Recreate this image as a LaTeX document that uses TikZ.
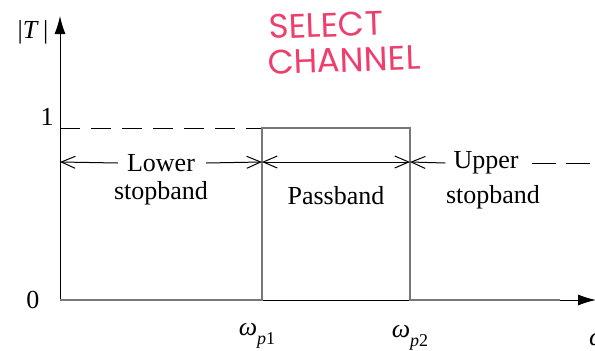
\documentclass[tikz,border=0pt]{standalone}
\usepackage{fontspec}
\setmainfont{Liberation Serif}
\newfontfamily\handfont{Poppins}
\usetikzlibrary{arrows.meta}
\definecolor{pinkink}{RGB}{238,62,108}
\definecolor{scangray}{RGB}{120,120,120}
\newcommand{\lowsub}[1]{\raisebox{-0.35em}{\fontsize{18}{20}\selectfont\itshape #1}}
\begin{document}
\begin{tikzpicture}[x=1pt,y=-1pt,
  lbl/.style={font=\fontsize{26}{28}\selectfont, inner sep=0pt},
  hand/.style={font=\handfont\fontsize{34}{36}\selectfont, text=pinkink, inner sep=0pt},
  axisline/.style={line width=1pt, -{Latex[length=18pt,width=11pt]}},
  response/.style={line width=2.6pt, draw=scangray, line join=miter},
  guide/.style={line width=1pt, dash pattern=on 20pt off 11pt},
  dimline/.style={line width=1pt, -{Straight Barb[length=14pt,width=12pt,line width=1pt]}},
  dimboth/.style={line width=1pt, {Straight Barb[length=14pt,width=12pt,line width=1pt]}-{Straight Barb[length=14pt,width=12pt,line width=1pt]}}]
\useasboundingbox (0,0) rectangle (595,351);

% coordinates
\coordinate (O) at (60,300);
\coordinate (Ytip) at (60,16);
\coordinate (Xtip) at (596,300);
\coordinate (lt) at (60,128);
\coordinate (bl) at (262,300);
\coordinate (tl) at (262,128);
\coordinate (tr) at (410,128);
\coordinate (br) at (410,300);
\coordinate (re) at (560,300);
\coordinate (aL) at (60,162);
\coordinate (p1) at (262,162);
\coordinate (p2) at (410,162);
\coordinate (d1) at (532,163);
\coordinate (d2) at (600,163);

% axes
\draw[axisline] (O) -- (Ytip);
\draw[axisline] (O) -- (Xtip);

% response
\draw[guide] (lt) -- (tl);
\draw[response] (O) -- (bl) -- (tl) -- (tr) -- (br) -- (re);

% labels
\node[lbl] (T) at (33,32) {|\textit{T}\,|};
\node[lbl] (one) at (47,117) {1};
\node[lbl] (zero) at (33,300) {0};
\node[lbl] (wp1) at (257,336) {\textit{ω}\lowsub{p}\lowsub{\upshape 1}};
\node[lbl] (wp2) at (410,338) {\textit{ω}\lowsub{p}\lowsub{\upshape 2}};
\node[lbl, anchor=west] (w) at (589,340) {\textit{ω}};

\node[lbl] (lower) at (161,163) {Lower};
\node[lbl] (lstop) at (161,193) {stopband};
\node[lbl] (pass) at (336,196) {Passband};
\node[lbl] (upper) at (486,163) {Upper};
\node[lbl] (ustop) at (493,197) {stopband};

% dimension arrows
\draw[dimline] ([xshift=-9pt]lower.west) -- (aL);
\draw[dimline] ([xshift=11pt]lower.east) -- (p1);
\draw[dimboth] (p1) -- (p2);
\draw[dimline] ([xshift=-8pt]upper.west) -- (p2);
\draw[guide, dash pattern=on 24pt off 10pt] (d1) -- (d2);

% handwritten note
\node[hand, rotate=2] (sel) at (326,25) {SELECT};
\node[hand, rotate=2] (chan) at (344,60) {CHANNEL};
\end{tikzpicture}
\end{document}
